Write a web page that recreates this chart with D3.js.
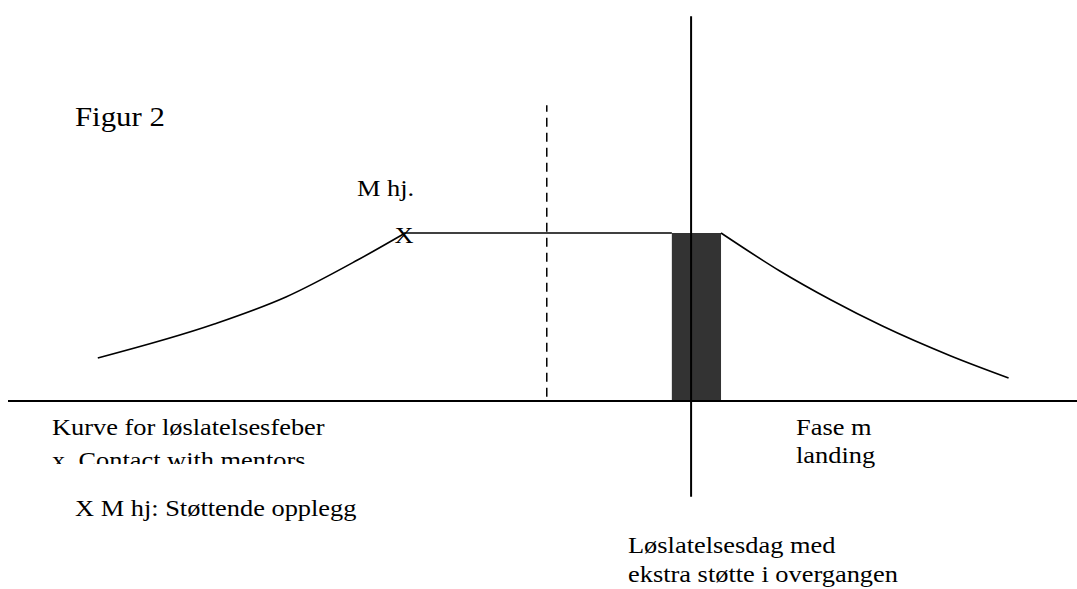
<!DOCTYPE html>
<html lang="no">
<head>
  <meta charset="UTF-8">
  <title>Figur 2</title>
  <script src="https://cdn.jsdelivr.net/npm/d3@7"></script>
  <style>
    body { margin: 0; background: #fff; }
  </style>
</head>
<body>
  <div id="chart"></div>
  <script>
    // schematic units: x = time (0..100), y = level (baseline 0, plateau 10)
    const riseCurve = [[8.4, 2.56], [19.3, 4.58], [26.0, 6.19], [32.7, 8.39], [37.0, 9.94]];
    const plateau = [[37.0, 10], [62.1, 10]];
    const fallCurve = [[66.7, 10], [72.2, 7.74], [77.0, 6.01], [81.8, 4.46], [88.2, 2.68], [93.6, 1.37]];
    const releaseBar = { x0: 62.1, x1: 66.7, top: 10 };
    const releaseDay = { x: 63.9, y0: -5.7, y1: 22.9 };
    const dashedMark = { x: 50.4, y0: 0.25, y1: 17.6 };

    const width = 1077, height = 589;
    const FONT = "'Liberation Serif', 'Times New Roman', serif";

    const svg = d3.select('#chart').append('svg')
      .attr('width', width)
      .attr('height', height);

    const x = d3.scaleLinear().domain([0, 100]).range([8, 1077]);
    const y = d3.scaleLinear().domain([0, 10]).range([401, 233]);

    const line = d3.line()
      .x(d => x(d[0]))
      .y(d => y(d[1]))
      .curve(d3.curveMonotoneX);

    // dark bar at release
    svg.append('rect')
      .attr('x', x(releaseBar.x0))
      .attr('y', y(releaseBar.top))
      .attr('width', x(releaseBar.x1) - x(releaseBar.x0))
      .attr('height', y(0) - y(releaseBar.top))
      .attr('fill', '#333');

    // baseline
    svg.append('line')
      .attr('x1', x(0)).attr('x2', width)
      .attr('y1', y(0)).attr('y2', y(0))
      .attr('stroke', '#000').attr('stroke-width', 2);

    // release day
    svg.append('line')
      .attr('x1', x(releaseDay.x)).attr('x2', x(releaseDay.x))
      .attr('y1', y(releaseDay.y0)).attr('y2', y(releaseDay.y1))
      .attr('stroke', '#000').attr('stroke-width', 2);

    // dashed marker
    svg.append('line')
      .attr('x1', x(dashedMark.x)).attr('x2', x(dashedMark.x))
      .attr('y1', y(dashedMark.y0)).attr('y2', y(dashedMark.y1))
      .attr('stroke', '#000').attr('stroke-width', 1.5)
      .attr('stroke-dasharray', '9,6');

    [riseCurve, plateau, fallCurve].forEach(d => {
      svg.append('path')
        .datum(d)
        .attr('d', line)
        .attr('fill', 'none')
        .attr('stroke', '#000')
        .attr('stroke-width', 1.6);
    });

    // the text box under the axis is cut off in the original
    svg.append('defs').append('clipPath').attr('id', 'clipLeft')
      .append('rect').attr('x', 0).attr('y', 405).attr('width', 500).attr('height', 59);

    // text in the original is slightly stretched horizontally
    const txt = (s, tx, ty, size, clip) => {
      const g = svg.append('g');
      if (clip) g.attr('clip-path', `url(#${clip})`);
      g.append('text')
        .attr('transform', `translate(${tx},${ty}) scale(1.1,1)`)
        .style('font-family', FONT)
        .style('font-size', size + 'px')
        .attr('fill', '#000')
        .text(s);
    };

    txt('Figur 2', 75, 126, 28);
    txt('M hj.', 357, 196, 24);
    txt('X', x(riseCurve[4][0]) - 9, y(10) + 10, 24);
    txt('Kurve for løslatelsesfeber', 52, 435, 24, 'clipLeft');
    txt('x. Contact with mentors', 52, 468, 24, 'clipLeft');
    txt('X M hj: Støttende opplegg', 75, 516, 24);
    txt('Fase m', 796, 435, 24);
    txt('landing', 796, 463, 24);
    txt('Løslatelsesdag med', 628, 553, 24);
    txt('ekstra støtte i overgangen', 628, 582, 24);
  </script>
</body>
</html>
